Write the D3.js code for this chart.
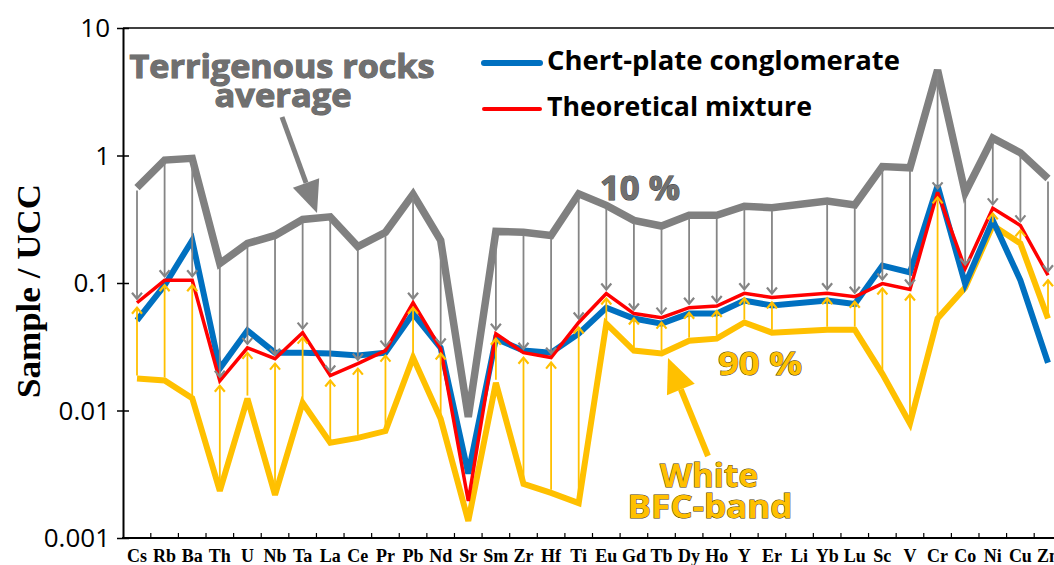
<!DOCTYPE html>
<html><head><meta charset="utf-8">
<script src="https://cdn.jsdelivr.net/npm/d3@7"></script>
<style>body{margin:0;background:#fff;overflow:hidden}</style>
</head><body>
<svg id="chart" width="1054" height="565"></svg>
<script>
const elements = ["Cs","Rb","Ba","Th","U","Nb","Ta","La","Ce","Pr","Pb","Nd","Sr","Sm","Zr","Hf","Ti","Eu","Gd","Tb","Dy","Ho","Y","Er","Li","Yb","Lu","Sc","V","Cr","Co","Ni","Cu","Zn"];
const terrigenous = [0.56,0.92,0.95,0.142,0.204,0.236,0.315,0.33,0.193,0.25,0.496,0.216,0.0089,0.254,0.25,0.236,0.50,0.406,0.31,0.28,0.34,0.34,0.40,0.39,null,0.44,0.41,0.82,0.80,4.68,0.51,1.37,1.05,0.66];
const chertPlate = [0.051,0.096,0.216,0.0213,0.0424,0.0284,0.0284,0.028,0.027,0.0284,0.0576,0.031,0.0032,0.0366,0.0295,0.0284,0.040,0.064,0.0526,0.048,0.0576,0.0576,0.0728,0.0666,null,0.0728,0.0685,0.137,0.121,0.58,0.098,0.31,0.105,0.0237];
const mixture = [0.070,0.105,0.105,0.0171,0.031,0.0255,0.0408,0.0188,0.0233,0.0295,0.070,0.0306,0.00195,0.040,0.0284,0.026,0.049,0.0827,0.0576,0.0535,0.064,0.066,0.083,0.077,null,0.083,0.078,0.099,0.089,0.514,0.13,0.385,0.283,0.115];
const whiteBand = [0.0178,0.0172,0.0125,0.00234,0.0124,0.00218,0.0115,0.00558,0.0061,0.0069,0.026,0.0086,0.00136,0.0165,0.00266,0.00226,0.00188,0.048,0.0295,0.028,0.0353,0.0366,0.049,0.0408,null,0.043,0.043,0.0194,0.0079,0.0526,0.092,0.283,0.204,0.0526];
const downArrowElements = ["Cs","Rb","Ba","Th","U","Nb","Ta","La","Ce","Pr","Pb","Nd","Sm","Zr","Hf","Ti","Eu","Gd","Tb","Dy","Ho","Y","Er","Yb","Lu","Sc","V","Cr","Co","Ni","Cu","Zn"];
const upArrowElements = ["Cs","Rb","Ba","Th","U","Nb","Ta","La","Ce","Pr","Pb","Nd","Sm","Zr","Hf","Ti","Eu","Gd","Tb","Dy","Ho","Y","Er","Yb","Lu","Sc","V","Cr","Ni","Cu","Zn"];
const yTickValues = [10,1,0.1,0.01,0.001];
const yTickLabels = ["10","1","0.1","0.01","0.001"];
const legendItems = [{label:"Chert-plate conglomerate", color:"#0070C0", width:6},{label:"Theoretical mixture", color:"#FF0000", width:4}];

const svg = d3.select("#chart");
const x = d3.scalePoint().domain(elements).range([137, 1048]);
const y = d3.scaleLog().domain([0.001, 10]).range([538, 28]);
const step = x.step();

// frame top line
svg.append("line").attr("x1",123).attr("x2",1054).attr("y1",y(10)).attr("y2",y(10)).attr("stroke","#000").attr("stroke-width",1.5);

// Y axis
const yAxis = svg.append("g").attr("transform","translate(123,0)")
  .call(d3.axisLeft(y).tickValues(yTickValues).tickFormat((d,i)=>yTickLabels[i]).tickSizeInner(6).tickSizeOuter(0).tickPadding(7));
yAxis.select(".domain").attr("stroke","#000").attr("stroke-width",2);
yAxis.selectAll(".tick line").attr("stroke","#000").attr("stroke-width",1.5).attr("x2",6).attr("x1",-6);
yAxis.selectAll(".tick text").attr("font-family","'Open Sans', sans-serif").attr("font-size",26).attr("fill","#000").attr("dy","0.34em");

// X axis
const xAxisG = svg.append("g");
xAxisG.append("line").attr("x1",122).attr("x2",1054).attr("y1",538).attr("y2",538).attr("stroke","#000").attr("stroke-width",2);
xAxisG.selectAll("line.tk").data(elements).enter().append("line").attr("class","tk")
  .attr("x1",d=>x(d)+step/2).attr("x2",d=>x(d)+step/2).attr("y1",538).attr("y2",533).attr("stroke","#000").attr("stroke-width",1.2);
xAxisG.selectAll("text").data(elements).enter().append("text")
  .attr("x",d=>x(d)).attr("y",562).attr("text-anchor","middle")
  .attr("font-family","'Liberation Serif', 'Times New Roman', serif").attr("font-weight","bold").attr("font-size",18).text(d=>d);

// Y title
svg.append("text").attr("transform","translate(40,291) rotate(-90)").attr("text-anchor","middle")
  .attr("font-family","'Liberation Serif', 'Times New Roman', serif").attr("font-weight","bold").attr("font-size",33)
  .attr("textLength",214).attr("lengthAdjust","spacingAndGlyphs").text("Sample / UCC");

// series lines
function pts(arr){ return elements.map((e,i)=>[e,arr[i]]).filter(d=>d[1]!=null); }
const line = d3.line().x(d=>x(d[0])).y(d=>y(d[1])).curve(d3.curveLinear);
const series = [
  {data:terrigenous, color:"#808080", w:7.5},
  {data:whiteBand, color:"#FFC000", w:6},
  {data:chertPlate, color:"#0070C0", w:6},
  {data:mixture, color:"#FF0000", w:3.5}
];
series.forEach(s=>{
  svg.append("path").datum(pts(s.data)).attr("d",line).attr("fill","none")
    .attr("stroke",s.color).attr("stroke-width",s.w).attr("stroke-linejoin","miter").attr("stroke-miterlimit",3);
});

// thin arrows
function arrow(g, x0, y0, y1, color){
  const dir = y1 > y0 ? 1 : -1;
  g.append("line").attr("x1",x0).attr("x2",x0).attr("y1",y0).attr("y2",y1).attr("stroke",color).attr("stroke-width",1.8);
  g.append("path").attr("d",`M${x0-5},${y1-dir*6} L${x0},${y1} L${x0+5},${y1-dir*6}`)
    .attr("fill","none").attr("stroke",color).attr("stroke-width",2.2).attr("stroke-linejoin","miter");
}
const ag = svg.append("g");
downArrowElements.forEach(e=>{
  const i = elements.indexOf(e);
  arrow(ag, x(e), y(terrigenous[i])+3, y(mixture[i])-4, "#858585");
});
upArrowElements.forEach(e=>{
  const i = elements.indexOf(e);
  arrow(ag, x(e), y(whiteBand[i])-3, y(mixture[i])+5, "#FFC000");
});

// legend
legendItems.forEach((d,i)=>{
  const ly = [63,109][i];
  svg.append("line").attr("x1",484).attr("x2",540).attr("y1",ly).attr("y2",ly)
    .attr("stroke",d.color).attr("stroke-width",d.width).attr("stroke-linecap","round");
  svg.append("text").attr("x",547).attr("y",[70,116][i]).attr("font-family","'Open Sans', sans-serif")
    .attr("font-weight","bold").attr("font-size",27).attr("fill","#000")
    .attr("textLength",[353,265][i]).attr("lengthAdjust","spacingAndGlyphs").text(d.label);
});

// annotations
function label(txt, cx, by, size, len, fill, stroke){
  svg.append("text").attr("x",cx - len/2).attr("y",by).attr("font-family","'Open Sans', sans-serif")
    .attr("font-weight","bold").attr("font-size",size).attr("fill",fill)
    .attr("stroke",stroke).attr("stroke-width",stroke==="none"?0:1).attr("paint-order","stroke")
    .attr("textLength",len).attr("lengthAdjust","spacingAndGlyphs").text(txt);
}
label("Terrigenous rocks", 282, 78, 32, 305, "#707070", "#606060");
label("average", 283, 107, 32, 137, "#707070", "#606060");
label("10 %", 640, 200, 34, 80, "#707070", "#404040");
label("90 %", 760, 375, 32, 84, "#FFC000", "#4a3a00");
label("White", 709, 487, 33, 98, "#FFC000", "#4a3a00");
label("BFC-band", 710, 518, 33, 165, "#FFC000", "#4a3a00");

// big arrows
function bigArrow(x0,y0,x1,y1,color,w,hl,hw){
  const ang = Math.atan2(y1-y0,x1-x0);
  const bx = x1 - hl*Math.cos(ang), by = y1 - hl*Math.sin(ang);
  svg.append("line").attr("x1",x0).attr("y1",y0).attr("x2",bx).attr("y2",by).attr("stroke",color).attr("stroke-width",w);
  const px = -Math.sin(ang)*hw, py = Math.cos(ang)*hw;
  svg.append("path").attr("d",`M${x1},${y1} L${bx+px},${by+py} L${bx-px},${by-py} Z`).attr("fill",color);
}
bigArrow(282,117,317,213,"#808080",5,32,14);
bigArrow(708,456,668,358,"#FFC000",6,34,15);
</script>
</body></html>
